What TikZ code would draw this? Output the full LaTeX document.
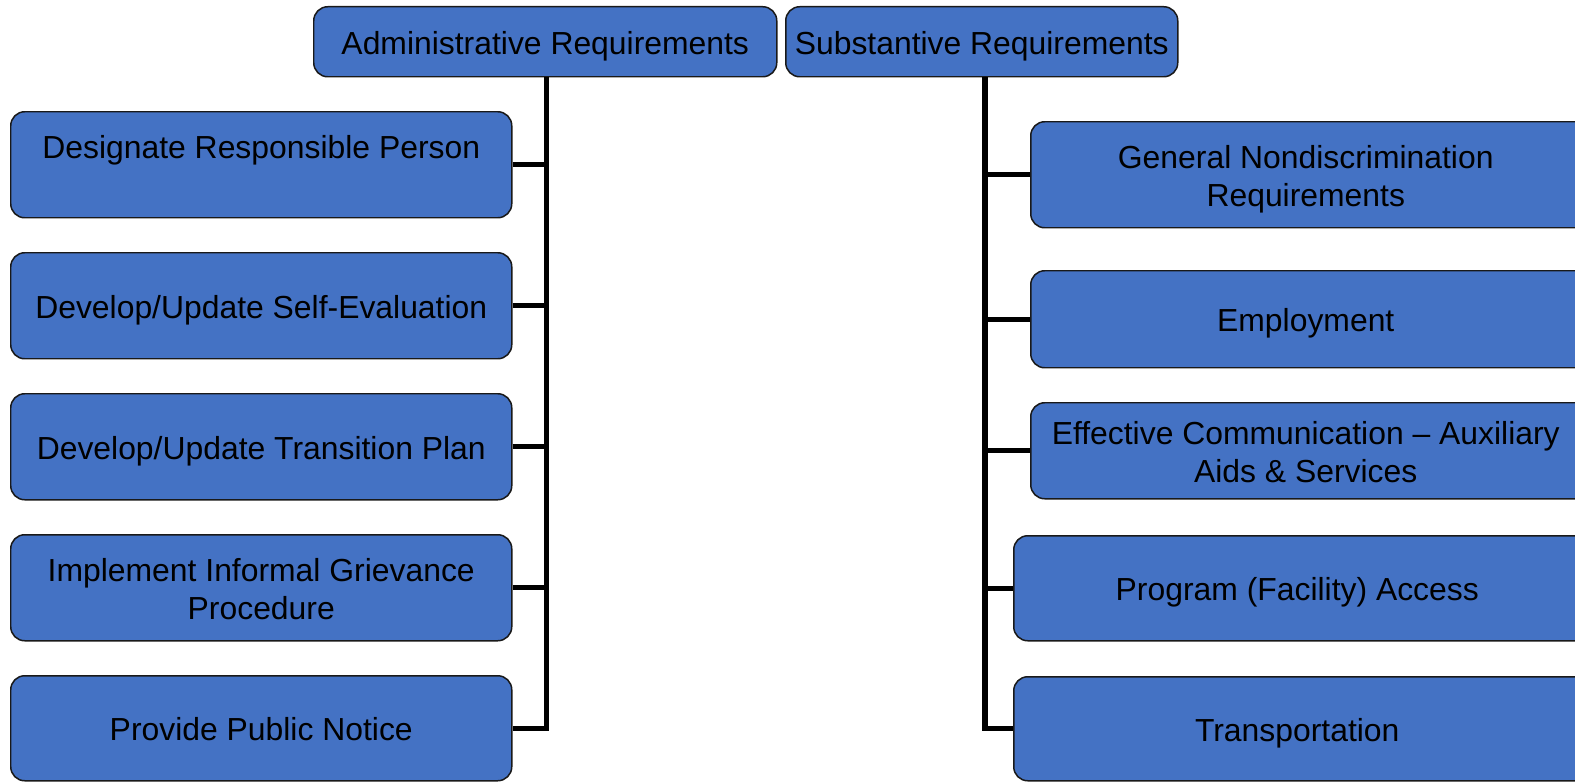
\documentclass[tikz,border=0pt]{standalone}
\usepackage{fontspec}
\setmainfont{Liberation Sans}
\definecolor{boxblue}{HTML}{4472C4}
\newcommand\tallstrut{\rule{0pt}{33pt}}
\newcommand\deepstrut{\rule[-7pt]{0pt}{7pt}}
\begin{document}
\begin{tikzpicture}[x=1bp,y=-1bp,
  box/.style={draw=black!90,line width=1.5pt,fill=boxblue,rounded corners=14pt,
    anchor=north west,inner sep=0pt,align=center,text=black,
    font=\fontsize{32}{38}\selectfont},
  oneline/.style={execute at begin node={\rule{0pt}{32pt}},
    execute at end node={\deepstrut}},
  conn/.style={draw=black,line width=5.5pt}]
\useasboundingbox (0,0) rectangle (1575,782);
% headers
\node[box,oneline,minimum width=463bp,minimum height=70bp] (adm) at (313,6) {Administrative Requirements};
\node[box,oneline,minimum width=392bp,minimum height=70bp] (sub) at (785,6) {Substantive Requirements};
% left boxes
\node[box,minimum width=501bp,minimum height=106bp] (l1) at (10,111) {\tallstrut Designate Responsible Person\\\deepstrut};
\node[box,oneline,minimum width=501bp,minimum height=106bp] (l2) at (10,252) {Develop/Update Self-Evaluation};
\node[box,oneline,minimum width=501bp,minimum height=106bp] (l3) at (10,393) {Develop/Update Transition Plan};
\node[box,minimum width=501bp,minimum height=106bp] (l4) at (10,534) {\tallstrut Implement Informal Grievance\\Procedure\deepstrut};
\node[box,oneline,minimum width=501bp,minimum height=105bp] (l5) at (10,675) {Provide Public Notice};
% right boxes
\node[box,minimum width=570bp,minimum height=106bp] (r1) at (1030,121) {\hspace*{-20bp}\tallstrut General Nondiscrimination\\\hspace*{-20bp}Requirements\deepstrut};
\node[box,oneline,minimum width=570bp,minimum height=97bp] (r2) at (1030,270) {\hspace*{-20bp}Employment};
\node[box,minimum width=570bp,minimum height=96bp] (r3) at (1030,402) {\hspace*{-20bp}\tallstrut Effective Communication -- Auxiliary\\\hspace*{-20bp}Aids \& Services\deepstrut};
\node[box,oneline,minimum width=587bp,minimum height=105bp] (r4) at (1013,535) {\hspace*{-20bp}Program (Facility) Access};
\node[box,oneline,minimum width=587bp,minimum height=104bp] (r5) at (1013,676) {\hspace*{-20bp}Transportation};
% left connectors
\draw[conn] ([xshift=1bp]adm.south) -- ([xshift=1bp]adm.south |- l5.east) -- (l5.east);
\foreach \b in {l1,l2,l3,l4}{\draw[conn] (\b.east) -- ([xshift=1bp]\b.east -| adm.south);}
% right connectors
\draw[conn] ([xshift=3bp]sub.south) -- ([xshift=3bp]sub.south |- r5.west) -- (r5.west);
\foreach \b in {r1,r2,r3,r4}{\draw[conn] (\b.west) -- ([xshift=3bp]\b.west -| sub.south);}
\end{tikzpicture}
\end{document}
